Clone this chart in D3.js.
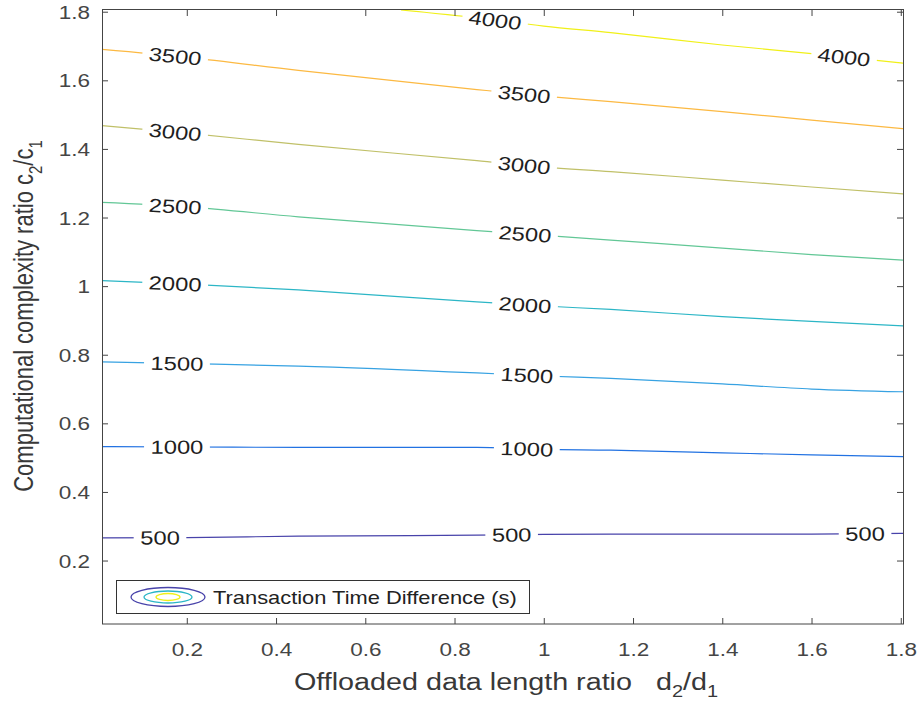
<!DOCTYPE html>
<html>
<head>
<meta charset="utf-8">
<script src="https://cdn.jsdelivr.net/npm/d3@7/dist/d3.min.js"></script>
<style>
body { margin: 0; background: #fff; }
text { font-family: "Liberation Sans", Arial, Helvetica, sans-serif; }
</style>
</head>
<body>
<svg id="chart" width="920" height="703"></svg>
<script>
const xSamples = [0.01, 0.2, 0.45, 0.85, 1.0, 1.15, 1.4, 1.6, 1.805]
const levels = [500, 1000, 1500, 2000, 2500, 3000, 3500, 4000]
const c500 = [0.266, 0.267, 0.271, 0.274, 0.276, 0.277, 0.277, 0.277, 0.279]
const c1000 = [0.532, 0.531, 0.530, 0.530, 0.524, 0.522, 0.514, 0.508, 0.503]
const c1500 = [0.779, 0.774, 0.767, 0.747, 0.738, 0.731, 0.715, 0.700, 0.692]
const c2000 = [1.016, 1.006, 0.989, 0.954, 0.942, 0.932, 0.911, 0.897, 0.884]
const c2500 = [1.244, 1.231, 1.202, 1.162, 1.148, 1.134, 1.111, 1.092, 1.076]
const c3000 = [1.468, 1.446, 1.413, 1.366, 1.347, 1.334, 1.309, 1.289, 1.269]
const c3500 = [1.690, 1.667, 1.629, 1.573, 1.554, 1.538, 1.509, 1.484, 1.459]
// the 4000 line enters through the top of the box
const x4000 = [0.68, 0.85, 1.0, 1.15, 1.4, 1.6, 1.805]
const c4000 = [1.805, 1.782, 1.758, 1.739, 1.703, 1.678, 1.650]
// where the inline labels sit (x values)
const labelPositions = [
    [0.140, 0.928, 1.720],
    [0.178, 0.962],
    [0.178, 0.962],
    [0.174, 0.958],
    [0.174, 0.958],
    [0.174, 0.956],
    [0.174, 0.956],
    [0.891, 1.673]
]
const levelColors = ['#4843aa', '#2272e2', '#37a2e2', '#2cb6c6', '#62c796', '#c0c068', '#fcb942', '#f0f018']
const xTicks = [0.2, 0.4, 0.6, 0.8, 1, 1.2, 1.4, 1.6, 1.8]
const yTicks = [0.2, 0.4, 0.6, 0.8, 1, 1.2, 1.4, 1.6, 1.8]

const W = 920
const H = 703
const SX = 1.25 // the original figure's text is stretched sideways

const x = d3.scaleLinear().domain([0.01, 1.805]).range([102, 903])
const y = d3.scaleLinear().domain([0.015, 1.805]).range([624, 10])

const svg = d3.select('#chart')
const defs = svg.append('defs')

defs.append('clipPath')
    .attr('id', 'plot-clip')
    .append('rect')
    .attr('x', 102)
    .attr('y', 10)
    .attr('width', 801)
    .attr('height', 614)

const mask = defs.append('mask')
    .attr('id', 'label-gaps')
    .attr('maskUnits', 'userSpaceOnUse')
    .attr('x', 0).attr('y', 0)
    .attr('width', W).attr('height', H)
mask.append('rect').attr('width', W).attr('height', H).attr('fill', '#fff')

const series = [c500, c1000, c1500, c2000, c2500, c3000, c3500, c4000]
const contours = levels.map((level, i) => {
    const xs = level === 4000 ? x4000 : xSamples
    const ys = series[i]
    return {
        level,
        points: xs.map((d, j) => [d, ys[j]]),
        at: d3.scaleLinear().domain(xs).range(ys).clamp(true),
        color: levelColors[i],
        labels: labelPositions[i]
    }
})

const line = d3.line()
    .x(d => x(d[0]))
    .y(d => y(d[1]))
    .curve(d3.curveMonotoneX)

// contour lines
const lines = svg.append('g')
    .attr('clip-path', 'url(#plot-clip)')
    .append('g')
    .attr('mask', 'url(#label-gaps)')

lines.selectAll('path')
    .data(contours)
    .enter()
    .append('path')
    .attr('d', d => line(d.points))
    .attr('fill', 'none')
    .attr('stroke', d => d.color)
    .attr('stroke-width', 1.2)

// inline labels
const labelLayer = svg.append('g')
contours.forEach(c => {
    c.labels.forEach(lx => {
        const px = x(lx)
        const py = y(c.at(lx))
        const dx = x(lx + 0.03) - x(lx - 0.03)
        const dy = y(c.at(lx + 0.03)) - y(c.at(lx - 0.03))
        const screenAngle = Math.atan2(dy, dx) * 180 / Math.PI
        const textAngle = Math.atan2(dy, dx / SX) * 180 / Math.PI
        const t = labelLayer.append('text')
            .attr('transform', `translate(${px},${py}) scale(${SX},1) rotate(${textAngle})`)
            .attr('text-anchor', 'middle')
            .attr('dy', '0.36em')
            .attr('font-size', 19)
            .attr('fill', '#1e1e1e')
            .text(c.level)
        const len = t.node().getComputedTextLength() * SX + 13
        mask.append('rect')
            .attr('transform', `translate(${px},${py}) rotate(${screenAngle})`)
            .attr('x', -len / 2)
            .attr('y', -10)
            .attr('width', len)
            .attr('height', 20)
            .attr('fill', '#000')
    })
})

// axes
const axisColor = '#444'
const fmt = d3.format('~g')

const gx = svg.append('g')
    .attr('transform', 'translate(0,624)')
    .call(d3.axisBottom(x).tickValues(xTicks).tickSizeInner(-6).tickSizeOuter(0).tickFormat(fmt))
gx.selectAll('text')
    .attr('y', 32)
    .attr('dy', null)
    .attr('transform', `scale(${SX},1)`)

const gy = svg.append('g')
    .attr('transform', 'translate(102,0)')
    .call(d3.axisLeft(y).tickValues(yTicks).tickSizeInner(-6).tickSizeOuter(0).tickFormat(fmt))
gy.selectAll('text')
    .attr('x', 0)
    .attr('dy', '0.36em')
    .attr('transform', `translate(-12,0) scale(${SX},1)`)

svg.append('g')
    .attr('transform', 'translate(0,10)')
    .call(d3.axisTop(x).tickValues(xTicks).tickSizeInner(-6).tickSizeOuter(0).tickFormat(''))
svg.append('g')
    .attr('transform', 'translate(903,0)')
    .call(d3.axisRight(y).tickValues(yTicks).tickSizeInner(-6).tickSizeOuter(0).tickFormat(''))

svg.selectAll('.domain').remove()
svg.selectAll('.tick line').attr('stroke', axisColor)
svg.selectAll('.tick text')
    .attr('font-size', 18)
    .attr('font-family', '"Liberation Sans", Arial, sans-serif')
    .attr('fill', '#454545')

svg.append('rect')
    .attr('x', 102.5)
    .attr('y', 9.5)
    .attr('width', 801)
    .attr('height', 614.5)
    .attr('fill', 'none')
    .attr('stroke', axisColor)
    .attr('stroke-width', 1)

// axis titles
const xTitle = svg.append('text')
    .attr('transform', `translate(506,690) scale(${SX},1)`)
    .attr('text-anchor', 'middle')
    .attr('font-size', 23)
    .attr('fill', '#383838')
xTitle.append('tspan').text('Offloaded data length ratio\u00a0\u00a0\u00a0d')
xTitle.append('tspan').attr('font-size', 16).attr('dy', 7).text('2')
xTitle.append('tspan').attr('dy', -7).text('/d')
xTitle.append('tspan').attr('font-size', 16).attr('dy', 7).text('1')

const yTitle = svg.append('text')
    .attr('transform', `translate(33,316) rotate(-90) scale(1,${SX})`)
    .attr('text-anchor', 'middle')
    .attr('font-size', 22)
    .attr('fill', '#383838')
yTitle.append('tspan').text('Computational complexity ratio c')
yTitle.append('tspan').attr('font-size', 15).attr('dy', 7).text('2')
yTitle.append('tspan').attr('dy', -7).text('/c')
yTitle.append('tspan').attr('font-size', 15).attr('dy', 7).text('1')

// legend
const legend = svg.append('g')
legend.append('rect')
    .attr('x', 116.5)
    .attr('y', 580.5)
    .attr('width', 413)
    .attr('height', 33)
    .attr('fill', '#fff')
    .attr('stroke', '#333')
const icon = [
    { rx: 37, ry: 9.5, color: levelColors[0] },
    { rx: 24, ry: 6, color: levelColors[3] },
    { rx: 12, ry: 3.5, color: levelColors[7] }
]
legend.selectAll('ellipse')
    .data(icon)
    .enter()
    .append('ellipse')
    .attr('cx', 168)
    .attr('cy', 597)
    .attr('rx', d => d.rx)
    .attr('ry', d => d.ry)
    .attr('fill', 'none')
    .attr('stroke', d => d.color)
    .attr('stroke-width', 1.3)
legend.append('text')
    .attr('transform', `translate(213,604) scale(${SX},1)`)
    .attr('font-size', 17.5)
    .attr('fill', '#222')
    .text('Transaction Time Difference (s)')
</script>
</body>
</html>
